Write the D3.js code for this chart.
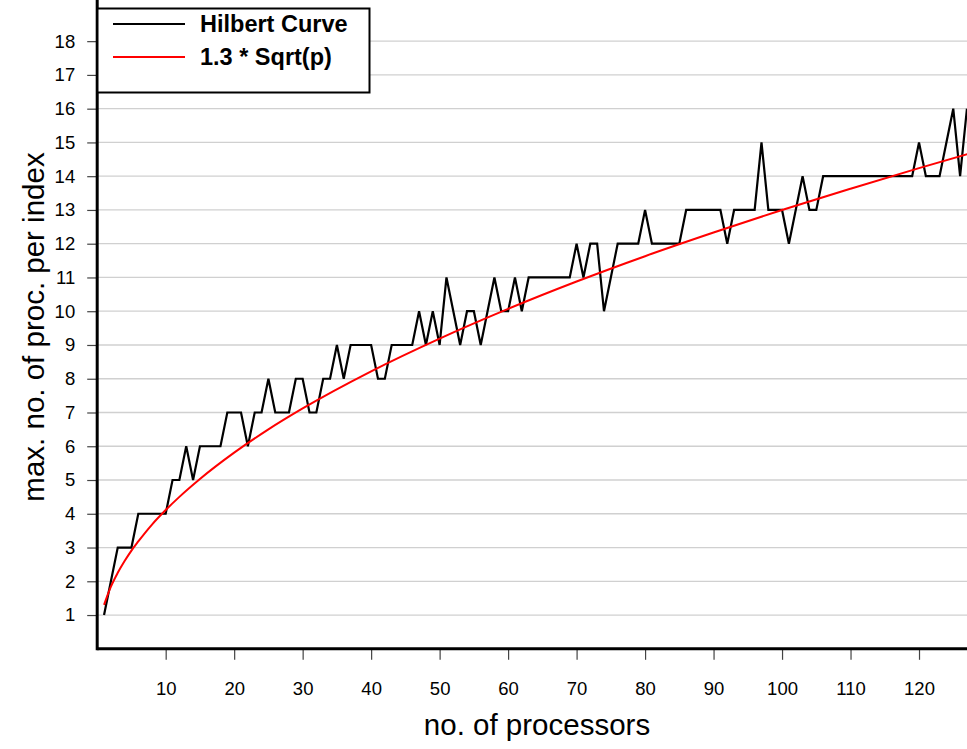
<!DOCTYPE html>
<html>
<meta charset="utf-8">
<head>
    <script src="https://d3js.org/d3.v7.min.js"></script>
    <style>
        body { margin: 0; background: white; }
        svg { font-family: "Liberation Sans", Arial, sans-serif; }
    </style>
</head>
<body>
    <script>

        // max. no. of processors per index for p = 1..127
        var hilbert = [1, 2, 3, 3, 3, 4, 4, 4, 4, 4,
                       5, 5, 6, 5, 6, 6, 6, 6, 7, 7,
                       7, 6, 7, 7, 8, 7, 7, 7, 8, 8,
                       7, 7, 8, 8, 9, 8, 9, 9, 9, 9,
                       8, 8, 9, 9, 9, 9, 10, 9, 10, 9,
                       11, 10, 9, 10, 10, 9, 10, 11, 10, 10,
                       11, 10, 11, 11, 11, 11, 11, 11, 11, 12,
                       11, 12, 12, 10, 11, 12, 12, 12, 12, 13,
                       12, 12, 12, 12, 12, 13, 13, 13, 13, 13,
                       13, 12, 13, 13, 13, 13, 15, 13, 13, 13,
                       12, 13, 14, 13, 13, 14, 14, 14, 14, 14,
                       14, 14, 14, 14, 14, 14, 14, 14, 14, 15,
                       14, 14, 14, 15, 16, 14, 16];

        // 1.3 * sqrt(p) curve, sampled off the plot
        var refP = [1, 2, 3, 4, 5, 6, 8, 10, 12, 15, 20, 25, 30, 40, 50, 60, 70, 80, 90, 100, 110, 120, 128];
        var refV = [1.30, 1.84, 2.25, 2.60, 2.91, 3.18, 3.68, 4.11, 4.50, 5.03, 5.81, 6.50, 7.12, 8.22, 9.19,
                    10.07, 10.88, 11.63, 12.33, 13.00, 13.63, 14.24, 14.71];

        var xTicks = [10, 20, 30, 40, 50, 60, 70, 80, 90, 100, 110, 120];
        var yTicks = [1, 2, 3, 4, 5, 6, 7, 8, 9, 10, 11, 12, 13, 14, 15, 16, 17, 18];
        var legendNames = ["Hilbert Curve", "1.3 * Sqrt(p)"];
        var legendColors = ["black", "red"];

        var width = 967,
            height = 749;

        var svg = d3.select("body").append("svg")
            .attr("width", width)
            .attr("height", height);

        var x = d3.scaleLinear()
            .domain([0, 128])
            .range([97.2, 973.8]);

        var y = d3.scaleLinear()
            .domain([0, 19])
            .range([648.8, 7.4]);

        // grid
        svg.append("g")
            .selectAll("line")
            .data(yTicks)
            .enter()
            .append("line")
            .attr("x1", x(0))
            .attr("x2", width)
            .attr("y1", d => y(d))
            .attr("y2", d => y(d))
            .attr("stroke", "#d0d0d0")
            .attr("stroke-width", 1.3);

        // axes
        var yAxis = svg.append("g")
            .attr("transform", "translate(" + x(0) + ",0)")
            .call(d3.axisLeft(y).tickValues(yTicks).tickSize(10).tickPadding(12));

        var xAxis = svg.append("g")
            .attr("transform", "translate(0," + y(0) + ")")
            .call(d3.axisBottom(x).tickValues(xTicks).tickSize(11).tickPadding(22));

        [xAxis, yAxis].forEach(function(a) {
            a.select(".domain").remove();
            a.selectAll(".tick line").attr("stroke", "#444").attr("stroke-width", 1.2);
            a.selectAll("text")
                .attr("font-family", "'Liberation Sans', Arial, sans-serif")
                .attr("font-size", 18.5)
                .attr("fill", "black");
        });

        svg.append("line")
            .attr("x1", x(0)).attr("x2", width)
            .attr("y1", y(0)).attr("y2", y(0))
            .attr("stroke", "black")
            .attr("stroke-width", 3);

        svg.append("line")
            .attr("x1", x(0)).attr("x2", x(0))
            .attr("y1", 0).attr("y2", y(0) + 1.5)
            .attr("stroke", "black")
            .attr("stroke-width", 3);

        // series
        var line = d3.line()
            .x((d, i) => x(i + 1))
            .y(d => y(d));

        svg.append("path")
            .datum(hilbert)
            .attr("d", line)
            .attr("fill", "none")
            .attr("stroke", "black")
            .attr("stroke-width", 2.2)
            .attr("stroke-linejoin", "miter");

        var refLine = d3.line()
            .x((d, i) => x(refP[i]))
            .y(d => y(d))
            .curve(d3.curveMonotoneX);

        svg.append("path")
            .datum(refV)
            .attr("d", refLine)
            .attr("fill", "none")
            .attr("stroke", "red")
            .attr("stroke-width", 2);

        // legend
        var legend = svg.append("g");

        legend.append("rect")
            .attr("x", 97.5)
            .attr("y", 8.5)
            .attr("width", 272)
            .attr("height", 84)
            .attr("fill", "white")
            .attr("stroke", "black")
            .attr("stroke-width", 2);

        legendNames.forEach(function(name, i) {
            var ly = 24 + i * 33;
            legend.append("line")
                .attr("x1", 113).attr("x2", 185)
                .attr("y1", ly).attr("y2", ly)
                .attr("stroke", legendColors[i])
                .attr("stroke-width", 1.8);
            legend.append("text")
                .attr("x", 200)
                .attr("y", ly)
                .attr("dy", "0.36em")
                .attr("font-size", 23.5)
                .attr("font-weight", "bold")
                .text(name);
        });

        // titles
        svg.append("text")
            .attr("x", 537)
            .attr("y", 735)
            .attr("text-anchor", "middle")
            .attr("font-size", 29.5)
            .text("no. of processors");

        svg.append("text")
            .attr("transform", "translate(44,327) rotate(-90)")
            .attr("text-anchor", "middle")
            .attr("font-size", 29.5)
            .text("max. no. of proc. per index");

    </script>
</body>
</html>
